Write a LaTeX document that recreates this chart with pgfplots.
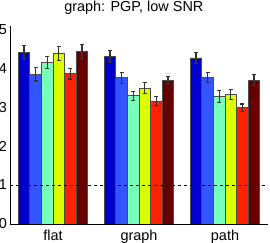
\documentclass[border=0pt]{standalone}
\usepackage{fontspec}
\setmainfont{Liberation Sans}
\usepackage{pgfplots}
\pgfplotsset{compat=1.18}
\definecolor{c1}{RGB}{0,0,205}
\definecolor{c2}{RGB}{50,85,255}
\definecolor{c3}{RGB}{120,255,185}
\definecolor{c4}{RGB}{220,255,0}
\definecolor{c5}{RGB}{255,34,0}
\definecolor{c6}{RGB}{102,0,0}
\begin{document}
\begin{tikzpicture}
\useasboundingbox (-10bp,-19bp) rectangle (260bp,224bp);
\begin{axis}[
  scale only axis,
  width=258bp, height=198bp,
  xmin=0.5, xmax=3.5, ymin=0, ymax=5.08,
  ybar=0pt, bar width=0.135,
  xtick={1,2,3}, xticklabels={flat,graph,path},
  ytick={0,1,2,3,4,5},
  axis x line*=bottom, axis y line*=left,
  axis line style={-, black, line width=0.8bp},
  major tick length=0pt,
  font=\fontsize{14.5}{16}\selectfont,
  /pgf/number format/assume math mode=true,
  xticklabel style={anchor=base, yshift=-16bp, inner sep=0pt},
  yticklabel style={anchor=east, inner sep=0pt, xshift=-3bp},
  title={graph: PGP, low SNR},
  title style={at={(0.48,1)}, anchor=base, yshift=9bp, inner sep=0pt},
  every axis plot/.append style={draw=black!70, line width=0.9bp},
  error bars/y dir=both, error bars/y explicit,
  error bars/error bar style={line width=1.2bp, black!80},
  error bars/error mark options={rotate=90, mark size=2bp, line width=1.1bp, black!80},
]
\addplot[fill=c1] coordinates {(1,4.40) +- (0,0.19) (2,4.29) +- (0,0.15) (3,4.26) +- (0,0.15)};
\addplot[fill=c2] coordinates {(1,3.84) +- (0,0.17) (2,3.75) +- (0,0.14) (3,3.75) +- (0,0.13)};
\addplot[fill=c3] coordinates {(1,4.15) +- (0,0.15) (2,3.29) +- (0,0.12) (3,3.27) +- (0,0.15)};
\addplot[fill=c4] coordinates {(1,4.38) +- (0,0.18) (2,3.49) +- (0,0.14) (3,3.32) +- (0,0.13)};
\addplot[fill=c5] coordinates {(1,3.86) +- (0,0.14) (2,3.15) +- (0,0.11) (3,2.98) +- (0,0.10)};
\addplot[fill=c6] coordinates {(1,4.42) +- (0,0.19) (2,3.68) +- (0,0.11) (3,3.69) +- (0,0.14)};
\addplot[sharp plot, black, line width=0.9bp, dash pattern=on 3bp off 3bp, forget plot, error bars/y dir=none] coordinates {(0.5,1) (3.5,1)};
\end{axis}
\end{tikzpicture}
\end{document}
